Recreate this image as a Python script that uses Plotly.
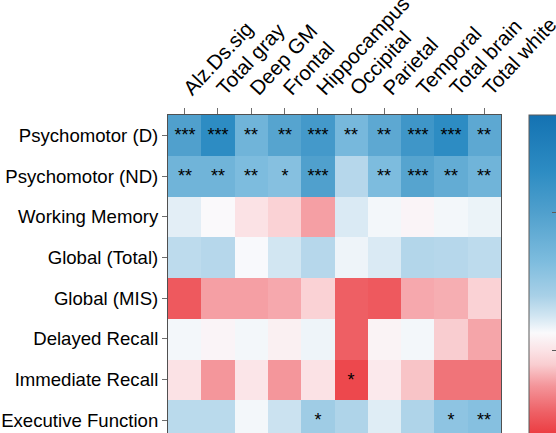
import plotly.graph_objects as go

regions = ["Alz.Ds.sig", "Total gray", "Deep GM", "Frontal", "Hippocampus",
           "Occipital", "Parietal", "Temporal", "Total brain", "Total white"]
tests = ["Psychomotor (D)", "Psychomotor (ND)", "Working Memory", "Global (Total)",
         "Global (MIS)", "Delayed Recall", "Immediate Recall", "Executive Function"]

corr = [
    [0.20, 0.26, 0.15, 0.19, 0.22, 0.14, 0.18, 0.23, 0.26, 0.18],
    [0.15, 0.15, 0.13, 0.12, 0.20, 0.07, 0.13, 0.19, 0.17, 0.15],
    [0.04, 0.025, 0.0, -0.015, -0.045, 0.045, 0.03, 0.02, 0.03, 0.035],
    [0.065, 0.07, 0.027, 0.05, 0.07, 0.033, 0.045, 0.072, 0.07, 0.065],
    [-0.095, -0.045, -0.045, -0.04, -0.015, -0.09, -0.095, -0.04, -0.037, -0.015],
    [0.03, 0.02, 0.03, 0.015, 0.033, -0.09, 0.018, 0.03, -0.02, -0.042],
    [0.0, -0.05, 0.003, -0.05, 0.0, -0.11, 0.008, -0.025, -0.075, -0.075],
    [0.067, 0.067, 0.03, 0.055, 0.09, 0.075, 0.042, 0.075, 0.11, 0.12],
]
stars = [
    ["***", "***", "**", "**", "***", "**", "**", "***", "***", "**"],
    ["**", "**", "**", "*", "***", "", "**", "***", "**", "**"],
    ["", "", "", "", "", "", "", "", "", ""],
    ["", "", "", "", "", "", "", "", "", ""],
    ["", "", "", "", "", "", "", "", "", ""],
    ["", "", "", "", "", "", "", "", "", ""],
    ["", "", "", "", "", "*", "", "", "", ""],
    ["", "", "", "", "*", "", "", "", "*", "**"],
]
cbar_ticks = [0.0, 0.2]

ZMIN, ZMAX = -0.238, 0.342
stops = [
    (-0.238, "rgb(228,40,46)"),
    (-0.119, "rgb(236,62,67)"),
    (-0.09, "rgb(238,95,100)"),
    (-0.05, "rgb(244,150,155)"),
    (-0.02, "rgb(249,205,208)"),
    (0.0, "rgb(251,226,229)"),
    (0.026, "rgb(250,250,252)"),
    (0.05, "rgb(210,230,242)"),
    (0.08, "rgb(168,208,231)"),
    (0.13, "rgb(125,188,222)"),
    (0.2, "rgb(80,160,205)"),
    (0.26, "rgb(45,140,195)"),
    (0.342, "rgb(20,114,178)"),
]
colorscale = [[(z - ZMIN) / (ZMAX - ZMIN), c] for z, c in stops]

FONT = "Liberation Sans, Arial, Helvetica, sans-serif"

W, H = 556, 433
ML, MR, MT, MB = 168, 55, 115, 0
PW, PH = W - ML - MR, H - MT - MB
CB_X = 1.084
CB_LEN = 400

fig = go.Figure(go.Heatmap(
    z=corr, x=regions, y=tests, text=stars, texttemplate="%{text}",
    textfont=dict(family=FONT, size=18, color="black"),
    colorscale=colorscale, zmin=ZMIN, zmax=ZMAX, xgap=0, ygap=0,
    colorbar=dict(x=CB_X, xanchor="left", y=1, yanchor="top",
                  lenmode="pixels", len=CB_LEN, thickness=28, xpad=0, ypad=0,
                  outlinecolor="rgb(90,90,90)", outlinewidth=1,
                  tickvals=cbar_ticks, ticks="inside", ticklen=5,
                  tickcolor="rgb(90,90,90)",
                  tickfont=dict(family=FONT, size=18, color="black")),
    hoverinfo="skip",
))

# matching tick marks on the left edge of the colour bar
for tv in cbar_ticks:
    yp = 1 - (ZMAX - tv) / (ZMAX - ZMIN) * CB_LEN / PH
    fig.add_shape(type="line", xref="paper", yref="paper",
                  x0=CB_X, x1=CB_X + 5 / PW, y0=yp, y1=yp,
                  line=dict(color="rgb(90,90,90)", width=1))

fig.update_layout(
    width=W, height=H,
    margin=dict(l=ML, r=MR, t=MT, b=MB, pad=0, autoexpand=False),
    paper_bgcolor="white", plot_bgcolor="white",
    font=dict(family=FONT, size=20, color="black"),
)
fig.update_xaxes(side="top", tickangle=-47, ticks="outside", ticklen=6,
                 tickcolor="rgb(110,110,110)", showline=True, mirror=True,
                 linecolor="rgb(80,80,80)", linewidth=1, showgrid=False,
                 automargin=False,
                 tickfont=dict(family=FONT, size=20.5, color="black"))
fig.update_yaxes(range=[7.31, -0.5], ticks="outside", ticklen=5,
                 tickcolor="rgb(110,110,110)", showline=True, mirror=True,
                 linecolor="rgb(80,80,80)", linewidth=1, showgrid=False,
                 automargin=False,
                 tickfont=dict(family=FONT, size=18.6, color="black"))

fig.write_html("out.html", config={"displayModeBar": False},
               post_script="document.body.style.margin='0';")
